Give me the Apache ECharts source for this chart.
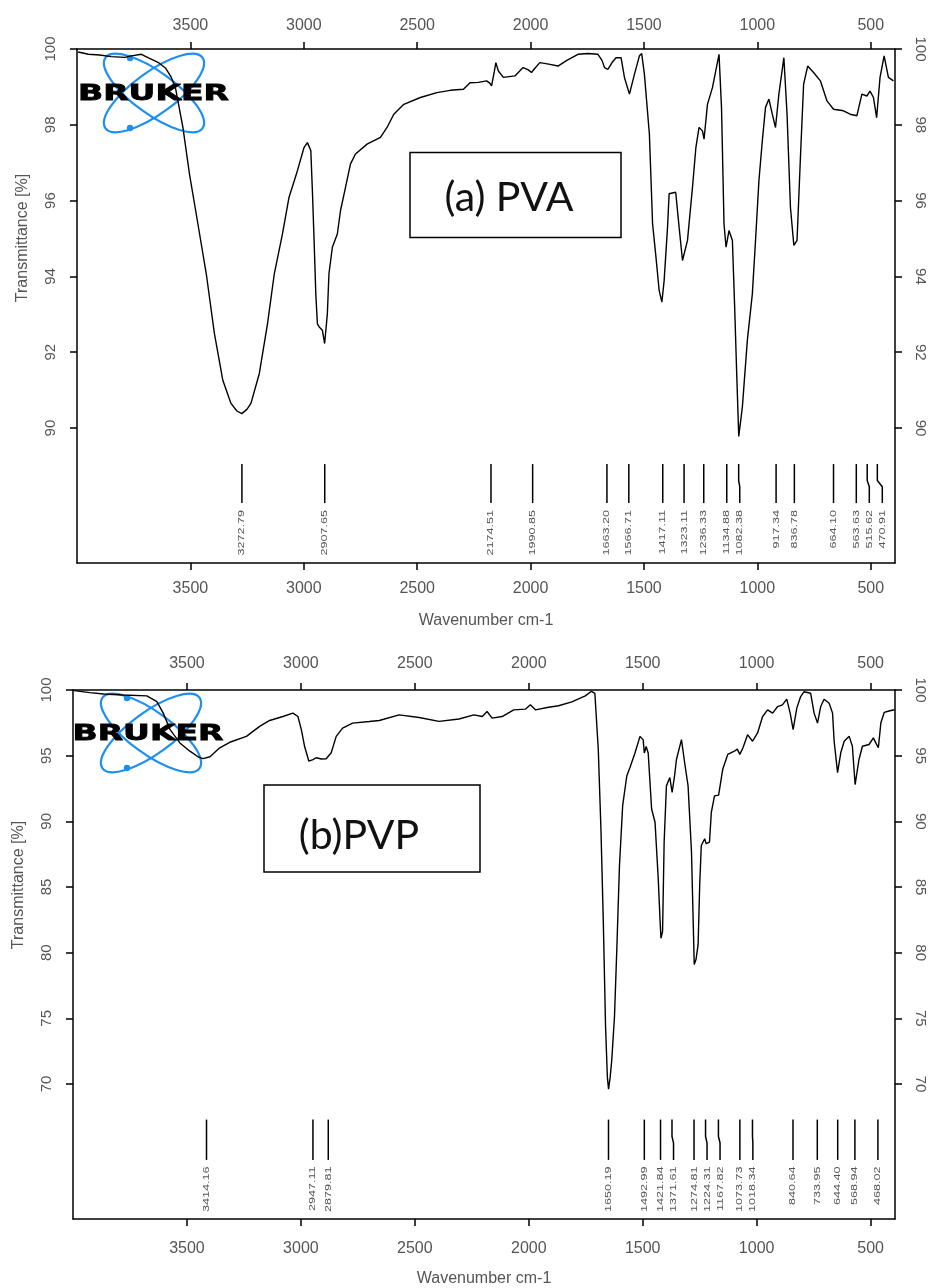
<!DOCTYPE html>
<html>
<head>
<meta charset="utf-8">
<script src="https://cdn.jsdelivr.net/npm/echarts@6/dist/echarts.min.js"></script>
<style>
html,body{margin:0;padding:0;background:#fff;}
#chart{width:928px;height:1288px;}
</style>
</head>
<body>
<div id="chart"></div>
<script>
// ---------- DATA ----------
const xTicks = [3500, 3000, 2500, 2000, 1500, 1000, 500];
const pvaYTicks = [90, 92, 94, 96, 98, 100];
const pvpYTicks = [70, 75, 80, 85, 90, 95, 100];

// PVA spectrum: [wavenumber, transmittance %]
const pvaSpectrum = [
[3995,99.92],[3950,99.86],[3900,99.84],[3850,99.8],[3789,99.78],[3760,99.82],[3716,99.86],[3680,99.75],
[3643,99.65],[3610,99.5],[3584,99.25],[3565,98.95],[3555,98.63],[3533,97.93],[3504,96.7],[3467,95.39],
[3430,94.07],[3394,92.49],[3357,91.26],[3321,90.65],[3295,90.45],[3273,90.38],[3250,90.5],[3233,90.65],
[3196,91.44],[3160,92.75],[3130,94.07],[3094,95.12],[3065,96.09],[3028,96.79],[2999,97.4],[2984,97.53],
[2969,97.32],[2962,96.26],[2955,95.03],[2947,93.54],[2940,92.75],[2930,92.65],[2918,92.58],[2908,92.23],
[2896,93.02],[2889,94.07],[2874,94.77],[2852,95.12],[2838,95.74],[2816,96.35],[2794,96.97],[2772,97.23],
[2721,97.49],[2662,97.67],[2633,97.93],[2603,98.28],[2559,98.54],[2486,98.72],[2413,98.85],[2354,98.91],
[2296,98.94],[2267,99.11],[2230,99.12],[2194,99.16],[2180,99.1],[2172,99.03],[2160,99.4],[2153,99.64],
[2142,99.42],[2120,99.25],[2069,99.29],[2033,99.51],[2010,99.45],[1996,99.38],[1980,99.5],[1959,99.64],
[1920,99.6],[1879,99.55],[1840,99.7],[1791,99.86],[1747,99.88],[1703,99.86],[1685,99.7],[1674,99.51],
[1659,99.46],[1640,99.65],[1623,99.77],[1601,99.77],[1586,99.25],[1564,98.81],[1542,99.33],[1520,99.82],
[1510,99.88],[1498,99.33],[1476,97.75],[1462,95.39],[1447,94.51],[1433,93.63],[1421,93.32],[1411,93.89],
[1396,95.3],[1389,96.18],[1360,96.22],[1345,95.3],[1330,94.42],[1308,94.95],[1286,96.35],[1271,97.4],
[1257,97.93],[1242,97.84],[1235,97.62],[1220,98.54],[1198,98.98],[1169,99.86],[1158,98.46],[1147,95.39],
[1138,94.77],[1125,95.21],[1110,94.95],[1100,93.19],[1091,91.44],[1082,89.78],[1066,90.56],[1044,92.32],
[1022,93.54],[1008,94.95],[993,96.53],[978,97.58],[964,98.46],[949,98.68],[934,98.28],[920,97.93],
[905,98.81],[883,99.77],[869,98.28],[854,95.82],[839,94.82],[825,94.95],[810,97.14],[796,99.07],
[778,99.55],[752,99.38],[722,99.16],[693,98.63],[664,98.41],[620,98.37],[591,98.28],[561,98.24],
[539,98.81],[517,98.76],[503,98.89],[488,98.72],[474,98.19],[459,99.25],[441,99.82],[422,99.25],[400,99.16]
];

// PVP spectrum: [wavenumber, transmittance %]
const pvpSpectrum = [
[3995,99.95],[3926,99.8],[3866,99.7],[3779,99.62],[3676,99.55],[3632,99.12],[3604,98.24],[3574,96.98],
[3531,95.97],[3487,95.34],[3450,94.9],[3429,94.77],[3399,94.92],[3356,95.6],[3312,96.02],[3239,96.47],
[3181,97.23],[3137,97.68],[3079,97.98],[3035,98.24],[3013,97.98],[2998,96.98],[2984,95.72],[2965,94.58],
[2947,94.7],[2933,94.84],[2910,94.75],[2889,94.77],[2867,95.22],[2845,96.47],[2817,97.1],[2773,97.48],
[2700,97.6],[2656,97.68],[2569,98.11],[2481,97.91],[2394,97.61],[2306,97.79],[2241,98.11],[2204,97.98],
[2183,98.36],[2161,97.86],[2117,97.98],[2066,98.49],[2015,98.54],[1993,98.87],[1971,98.49],[1913,98.69],
[1869,98.8],[1811,99.1],[1752,99.55],[1725,99.9],[1710,99.75],[1695,95.47],[1683,89.18],[1673,82.38],
[1663,74.3],[1655,70.5],[1650,69.6],[1643,70.5],[1636,71.8],[1624,75.1],[1614,80.1],[1602,86.65],
[1588,91.2],[1570,93.45],[1556,94.1],[1534,95.2],[1512,96.47],[1498,96.2],[1493,95.2],[1485,95.7],
[1476,95.2],[1461,90.94],[1446,89.93],[1432,85.65],[1424,82.5],[1420,81.1],[1413,81.6],[1406,88.42],
[1396,92.7],[1381,93.33],[1371,92.2],[1360,93.5],[1352,94.71],[1330,96.22],[1316,94.46],[1301,92.7],
[1286,87.67],[1278,82.0],[1274,79.1],[1266,79.5],[1257,80.61],[1250,85.14],[1243,88.16],[1228,88.67],
[1222,88.3],[1207,88.42],[1199,90.68],[1185,91.94],[1167,92.0],[1163,92.07],[1149,93.96],[1127,95.09],
[1098,95.34],[1085,95.5],[1074,95.1],[1060,95.6],[1040,96.6],[1018,96.1],[996,96.73],[974,97.98],
[952,98.49],[930,98.24],[908,98.74],[887,98.87],[868,99.3],[853,98.24],[840,96.98],[824,98.62],
[807,99.5],[792,99.87],[763,99.75],[748,98.24],[733,97.48],[719,98.74],[704,99.3],[682,98.99],
[667,98.24],[660,96.1],[645,93.71],[631,95.22],[616,96.1],[594,96.47],[580,95.72],[568,92.8],
[551,94.71],[536,95.72],[507,95.85],[488,96.35],[475,95.9],[466,95.6],[455,97.5],[440,98.3],[420,98.4],[395,98.5]
];

const pvaPeaks = [3272.79, 2907.65, 2174.51, 1990.85, 1663.20, 1566.71, 1417.11, 1323.11, 1236.33,
                  1134.88, 1082.38, 917.34, 836.78, 664.10, 563.63, 515.62, 470.91];
const pvpPeaks = [3414.16, 2947.11, 2879.81, 1650.19, 1492.99, 1421.84, 1371.61, 1274.81, 1224.31,
                  1167.82, 1073.73, 1018.34, 840.64, 733.95, 644.40, 568.94, 468.02];

// ---------- CHART ----------
const chart = echarts.init(document.getElementById('chart'), null, {renderer:'canvas', width:928, height:1288});
const FONT = '"Liberation Sans", Arial, sans-serif';
const GRAY = '#555';
const AXLINE = {show:true, lineStyle:{color:'#000', width:1.5}};
const plain = v => String(v);

function xAxisPair(gridIndex, bottomMargin, topMargin, nameGap) {
  const base = {
    type:'value', gridIndex, min:393, max:4000, inverse:true,
    axisLine: AXLINE, splitLine:{show:false},
    axisTick:{show:true, inside:false, length:7, lineStyle:{color:'#000', width:1.5}, customValues: xTicks},
    axisLabel:{show:true, color:GRAY, fontSize:16, fontFamily:FONT, customValues: xTicks, margin:bottomMargin, formatter:plain}
  };
  return [
    Object.assign({}, base, {position:'bottom', name:'Wavenumber cm-1', nameLocation:'middle', nameGap:nameGap,
      nameTextStyle:{color:GRAY, fontSize:16, fontFamily:FONT}}),
    Object.assign({}, base, {position:'top', axisLabel:Object.assign({}, base.axisLabel, {margin:topMargin})})
  ];
}
function yAxisPair(gridIndex, min, ticks) {
  const base = {
    type:'value', gridIndex, min, max:100, splitLine:{show:false}, axisLine: AXLINE,
    axisTick:{show:true, inside:false, length:7, lineStyle:{color:'#000', width:1.5}, customValues: ticks}
  };
  return [
    Object.assign({}, base, {position:'left', axisLabel:{color:GRAY, fontSize:15, fontFamily:FONT, rotate:90, margin:19, customValues: ticks, formatter:plain}}),
    Object.assign({}, base, {position:'right', axisLabel:{color:GRAY, fontSize:15, fontFamily:FONT, rotate:-90, margin:18, customValues: ticks, formatter:plain}})
  ];
}

const GAP = 13;
function peakRenderer(peaks, yTop, yBot, yLab) {
  return function(params, api) {
    const i = params.dataIndex;
    const xs = peaks.map(p => api.coord([p, yTop])[0]);
    const lx = [];
    for (let k = 0; k < xs.length; k++) lx[k] = k === 0 ? xs[k] : Math.max(xs[k], lx[k-1] + GAP);
    const top = api.coord([peaks[i], yTop])[1];
    const bot = api.coord([peaks[i], yBot])[1];
    const lab = api.coord([peaks[i], yLab])[1];
    const y1 = top + (bot - top) * 0.42, y2 = top + (bot - top) * 0.58;
    return {type:'group', children:[
      {type:'polyline', shape:{points:[[xs[i], top],[xs[i], y1],[lx[i], y2],[lx[i], bot]]},
       style:{stroke:'#000', lineWidth:1.5, fill:null}},
      {type:'text', x:lx[i], y:lab, rotation:Math.PI/2, scaleX:1.4,
       style:{text:peaks[i].toFixed(2), align:'right', verticalAlign:'middle', font:'9px ' + FONT, fill:GRAY}}
    ]};
  };
}

function logo(cx, cy, tx, ty) {
  const blue = '#1e8ff2';
  return {type:'group', z:0, children:[
    {type:'ellipse', shape:{cx:0, cy:0, rx:60, ry:21}, x:cx, y:cy, rotation:-0.63, style:{fill:null, stroke:blue, lineWidth:2.2}},
    {type:'ellipse', shape:{cx:0, cy:0, rx:60, ry:21}, x:cx, y:cy, rotation:0.63, style:{fill:null, stroke:blue, lineWidth:2.2}},
    {type:'circle', shape:{cx:cx-24, cy:cy-35, r:3.2}, style:{fill:blue}},
    {type:'circle', shape:{cx:cx-24, cy:cy+35, r:3.2}, style:{fill:blue}},
    {type:'text', x:tx, y:ty, scaleX:1.5, style:{text:'BRUKER', font:'900 22px "DejaVu Sans"', fill:'#000', align:'center', verticalAlign:'middle', stroke:'#000', lineWidth:0.8}}
  ]};
}

const option = {
  animation:false,
  backgroundColor:'#fff',
  grid:[
    {left:77, right:30, top:49, height:514},
    {left:73, right:30, top:690, height:533}
  ],
  xAxis:[...xAxisPair(0, 18, 15, 50), ...xAxisPair(1, 22, 18, 52)],
  yAxis:[...yAxisPair(0, 86.44, pvaYTicks), ...yAxisPair(1, 59.72, pvpYTicks)],
  series:[
    {type:'line', xAxisIndex:0, yAxisIndex:0, data:pvaSpectrum, showSymbol:false, z:5,
     lineStyle:{color:'#000', width:1.4}, silent:true},
    {type:'line', xAxisIndex:2, yAxisIndex:2, data:pvpSpectrum, showSymbol:false, z:5,
     lineStyle:{color:'#000', width:1.4}, silent:true},
    {type:'custom', xAxisIndex:0, yAxisIndex:0, data:pvaPeaks.map(p => [p, 89]),
     renderItem: peakRenderer(pvaPeaks, 89.05, 88.02, 87.84), silent:true, clip:false},
    {type:'custom', xAxisIndex:2, yAxisIndex:2, data:pvpPeaks.map(p => [p, 66]),
     renderItem: peakRenderer(pvpPeaks, 67.29, 64.22, 63.72), silent:true, clip:false}
  ],
  graphic:[
    logo(154, 93, 153.5, 94),
    logo(151, 733, 148, 734),
    {type:'rect', z:1, shape:{x:410, y:152.5, width:211, height:85}, style:{fill:null, stroke:'#000', lineWidth:1.5}},
    {type:'text', z:1, x:509, y:198, style:{text:'(a) PVA', font:'41px Lato, "Open Sans", sans-serif', fill:'#111', align:'center', verticalAlign:'middle'}},
    {type:'rect', z:1, shape:{x:264, y:785, width:216, height:87}, style:{fill:null, stroke:'#000', lineWidth:1.5}},
    {type:'text', z:1, x:359, y:836, style:{text:'(b)PVP', font:'41px Lato, "Open Sans", sans-serif', fill:'#111', align:'center', verticalAlign:'middle'}},
    {type:'text', x:23, y:238, rotation:Math.PI/2, style:{text:'Transmittance [%]', font:'16px ' + FONT, fill:GRAY, align:'center', verticalAlign:'middle'}},
    {type:'text', x:19, y:885, rotation:Math.PI/2, style:{text:'Transmittance [%]', font:'16px ' + FONT, fill:GRAY, align:'center', verticalAlign:'middle'}}
  ]
};
chart.setOption(option);
</script>
</body>
</html>
